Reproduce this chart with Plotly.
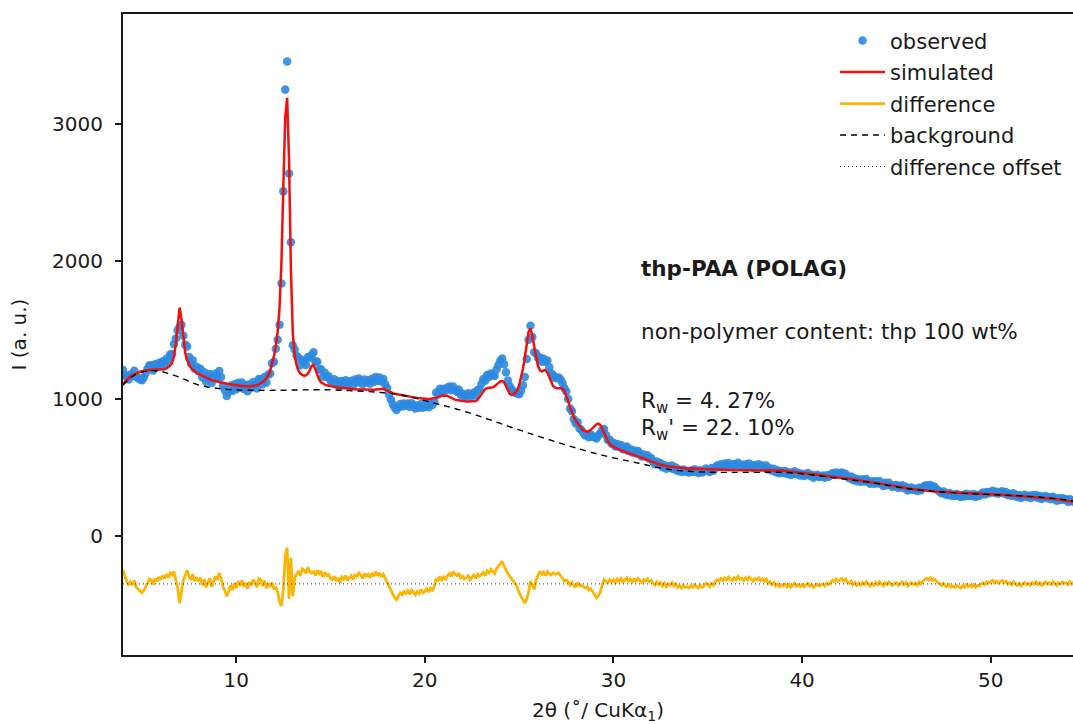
import numpy as np
import plotly.graph_objects as go

# Powder pattern of thp-PAA, scan 4.0-54.5 deg 2theta in 0.1 deg steps
SCAN_START = 4.0
SCAN_STEP = 0.1
DIFF_OFFSET = -345

observed = [
    1210, 1175, 1160, 1142, 1178, 1167, 1205, 1162, 1153, 1143,   # 4
    1137, 1155, 1188, 1220, 1246, 1242, 1207, 1252, 1232, 1262,   # 5
    1242, 1274, 1257, 1292, 1275, 1323, 1327, 1400, 1440, 1500,   # 6
    1525, 1540, 1460, 1395, 1382, 1305, 1258, 1282, 1220, 1235,   # 7
    1202, 1220, 1158, 1195, 1128, 1157, 1182, 1117, 1158, 1184,   # 8
    1156, 1203, 1160, 1097, 1064, 1021, 1053, 1096, 1059, 1107,   # 9
    1070, 1118, 1081, 1119, 1073, 1102, 1056, 1106, 1082, 1124,   # 10
    1107, 1076, 1146, 1143, 1107, 1159, 1120, 1177, 1185, 1260,   # 11
    1270, 1365, 1430, 1540, 1840, 2510, 3250, 3455, 2640, 2140,   # 12
    1390, 1360, 1315, 1300, 1245, 1285, 1270, 1247, 1305, 1300,   # 13
    1320, 1340, 1275, 1270, 1215, 1217, 1162, 1190, 1160, 1166,   # 14
    1133, 1120, 1143, 1106, 1129, 1092, 1130, 1113, 1136, 1100,   # 15
    1119, 1133, 1102, 1141, 1120, 1149, 1133, 1107, 1141, 1121,   # 16
    1136, 1111, 1147, 1123, 1160, 1133, 1156, 1128, 1145, 1108,   # 17
    1080, 1032, 996, 962, 938, 920, 942, 964, 946, 968,           # 18
    950, 968, 941, 969, 952, 930, 953, 936, 964, 937,             # 19
    946, 965, 940, 971, 957, 984, 1048, 1033, 1074, 1054,         # 20
    1075, 1060, 1082, 1091, 1063, 1090, 1065, 1052, 1069, 1031,   # 21
    1039, 1018, 1027, 1041, 1011, 1031, 1047, 1025, 1065, 1070,   # 22
    1110, 1145, 1133, 1174, 1160, 1186, 1175, 1168, 1215, 1248,   # 23
    1278, 1295, 1252, 1195, 1135, 1093, 1070, 1053, 1045, 1040,   # 24
    1035, 1060, 1100, 1160, 1290, 1430, 1532, 1450, 1340, 1330,   # 25
    1300, 1302, 1270, 1293, 1270, 1280, 1230, 1185, 1175, 1152,   # 26
    1153, 1157, 1139, 1115, 1078, 1055, 1000, 930, 910, 853,      # 27
    822, 830, 785, 775, 755, 735, 743, 722, 741, 728,             # 28
    722, 713, 735, 752, 775, 781, 738, 702, 703, 675,             # 29
    682, 655, 673, 651, 665, 634, 644, 654, 624, 635,             # 30
    610, 625, 606, 621, 601, 582, 597, 582, 591, 565,             # 31
    570, 545, 525, 545, 521, 532, 503, 520, 492, 510,             # 32
    498, 516, 489, 502, 476, 485, 469, 488, 472, 476,             # 33
    466, 480, 469, 489, 473, 462, 481, 466, 475, 495,             # 34
    484, 469, 498, 478, 502, 516, 506, 526, 510, 530,             # 35
    514, 534, 518, 508, 528, 512, 537, 517, 521, 506,             # 36
    526, 511, 530, 515, 500, 520, 510, 525, 506, 516,             # 37
    501, 517, 487, 497, 478, 493, 467, 481, 460, 474,             # 38
    463, 476, 455, 468, 447, 460, 474, 452, 461, 444,             # 39
    457, 440, 449, 462, 441, 449, 427, 441, 449, 433,             # 40
    436, 444, 427, 446, 434, 447, 460, 448, 466, 450,             # 41
    458, 466, 444, 457, 436, 424, 437, 410, 423, 402,             # 42
    415, 398, 416, 400, 418, 401, 384, 402, 384, 402,             # 43
    385, 403, 385, 368, 390, 373, 390, 373, 360, 373,             # 44
    375, 352, 365, 372, 350, 362, 335, 348, 356, 339,             # 45
    347, 330, 354, 337, 356, 369, 373, 362, 375, 354,             # 46
    363, 347, 336, 325, 314, 328, 307, 302, 316, 296,             # 47
    305, 294, 309, 298, 288, 302, 291, 311, 295, 305,             # 48
    294, 308, 288, 302, 297, 311, 320, 305, 324, 314,             # 49
    323, 332, 317, 326, 311, 320, 329, 313, 323, 302,             # 50
    311, 295, 314, 298, 287, 301, 280, 294, 303, 287,             # 51
    296, 280, 299, 288, 301, 280, 294, 273, 286, 295,             # 52
    278, 287, 270, 289, 277, 260, 278, 266, 279, 267,             # 53
    270, 253, 271, 254, 262, 245,                                 # 54
]

simulated = [
    1110, 1125, 1140, 1152, 1163, 1172, 1180, 1187, 1193, 1198,   # 4
    1202, 1205, 1208, 1210, 1211, 1212, 1212, 1212, 1212, 1212,   # 5
    1212, 1214, 1217, 1222, 1230, 1243, 1262, 1310, 1400, 1530,   # 6
    1665, 1580, 1430, 1335, 1282, 1250, 1228, 1212, 1200, 1190,   # 7
    1182, 1175, 1168, 1160, 1153, 1147, 1142, 1137, 1133, 1129,   # 8
    1126, 1123, 1120, 1117, 1114, 1111, 1108, 1106, 1104, 1102,   # 9
    1100, 1098, 1096, 1094, 1093, 1092, 1091, 1091, 1092, 1094,   # 10
    1097, 1101, 1106, 1113, 1122, 1134, 1150, 1172, 1205, 1250,   # 11
    1310, 1385, 1490, 1670, 2000, 2550, 3050, 3190, 2750, 1950,   # 12
    1480, 1320, 1245, 1205, 1185, 1175, 1170, 1172, 1185, 1210,   # 13
    1240, 1250, 1215, 1170, 1140, 1122, 1112, 1105, 1100, 1096,   # 14
    1093, 1090, 1088, 1086, 1084, 1082, 1080, 1078, 1076, 1075,   # 15
    1074, 1073, 1072, 1071, 1070, 1069, 1068, 1067, 1066, 1066,   # 16
    1066, 1066, 1067, 1068, 1070, 1073, 1076, 1078, 1075, 1068,   # 17
    1060, 1052, 1046, 1042, 1038, 1035, 1032, 1029, 1026, 1023,   # 18
    1020, 1018, 1016, 1014, 1012, 1010, 1008, 1006, 1004, 1002,   # 19
    1001, 1000, 1000, 1001, 1002, 1004, 1008, 1013, 1019, 1024,   # 20
    1025, 1025, 1022, 1016, 1008, 1000, 995, 992, 989, 986,       # 21
    984, 983, 982, 981, 981, 981, 982, 985, 995, 1015,            # 22
    1040, 1060, 1073, 1079, 1080, 1081, 1085, 1093, 1105, 1118,   # 23
    1128, 1130, 1122, 1095, 1060, 1038, 1030, 1033, 1045, 1065,   # 24
    1100, 1150, 1220, 1300, 1400, 1490, 1512, 1460, 1380, 1300,   # 25
    1240, 1210, 1200, 1208, 1210, 1190, 1155, 1120, 1095, 1082,   # 26
    1078, 1077, 1079, 1075, 1058, 1025, 985, 940, 900, 868,       # 27
    842, 820, 800, 785, 772, 765, 763, 767, 776, 788,             # 28
    802, 815, 820, 812, 785, 750, 718, 692, 672, 660,             # 29
    652, 645, 638, 631, 625, 619, 614, 609, 604, 600,             # 30
    595, 590, 586, 581, 576, 572, 567, 562, 556, 550,             # 31
    545, 540, 535, 530, 526, 522, 518, 515, 512, 510,             # 32
    508, 506, 504, 502, 501, 500, 499, 498, 497, 496,             # 33
    496, 495, 494, 494, 493, 492, 491, 491, 490, 490,             # 34
    489, 489, 488, 488, 487, 486, 486, 486, 485, 485,             # 35
    484, 484, 483, 483, 483, 482, 482, 482, 481, 481,             # 36
    481, 481, 480, 480, 480, 480, 480, 480, 481, 481,             # 37
    481, 482, 482, 482, 483, 483, 482, 481, 480, 479,             # 38
    478, 476, 475, 473, 472, 470, 469, 467, 466, 464,             # 39
    462, 460, 459, 457, 456, 454, 452, 451, 449, 448,             # 40
    446, 444, 442, 441, 439, 437, 435, 433, 431, 430,             # 41
    428, 426, 424, 422, 421, 419, 417, 415, 413, 412,             # 42
    410, 408, 406, 405, 403, 401, 399, 397, 394, 392,             # 43
    390, 388, 385, 383, 380, 378, 375, 373, 370, 368,             # 44
    365, 362, 360, 357, 355, 352, 350, 348, 346, 344,             # 45
    342, 340, 339, 337, 336, 334, 333, 332, 330, 329,             # 46
    328, 327, 326, 325, 324, 323, 322, 322, 321, 321,             # 47
    320, 319, 319, 318, 318, 317, 316, 316, 315, 315,             # 48
    314, 313, 313, 312, 312, 311, 310, 310, 309, 309,             # 49
    308, 307, 307, 306, 306, 305, 304, 303, 303, 302,             # 50
    301, 300, 299, 298, 297, 296, 295, 294, 293, 292,             # 51
    291, 290, 289, 288, 286, 285, 284, 283, 281, 280,             # 52
    278, 277, 275, 274, 272, 270, 268, 266, 264, 262,             # 53
    260, 258, 256, 254, 252, 250,                                 # 54
]

# Refined background, sampled every 0.5 deg
BG_STEP = 0.5
background = [
    1100, 1165, 1195, 1206, 1200, 1182, 1158, 1128, 1102, 1087,   # 4.0 - 8.5
    1077, 1070, 1066, 1064, 1063, 1063, 1063, 1064, 1065, 1066,   # 9.0 - 13.5
    1067, 1067, 1066, 1064, 1061, 1058, 1054, 1049, 1043, 1035,   # 14.0 - 18.5
    1022, 1006, 988, 970, 952, 934, 914, 893, 870, 846,           # 19.0 - 23.5
    822, 798, 775, 752, 730, 708, 686, 665, 644, 624,             # 24.0 - 28.5
    605, 588, 572, 557, 543, 528, 512, 498, 487, 479,             # 29.0 - 33.5
    474, 470, 468, 467, 466, 466, 466, 466, 467, 467,             # 34.0 - 38.5
    466, 462, 456, 448, 440, 431, 422, 413, 404, 395,             # 39.0 - 43.5
    385, 373, 361, 350, 341, 334, 328, 323, 319, 315,             # 44.0 - 48.5
    311, 308, 305, 302, 299, 296, 292, 287, 281, 274,             # 49.0 - 53.5
    265, 255,                                                     # 54.0 - 54.5
]

x_ticks = [10, 20, 30, 40, 50]
y_ticks = [0, 1000, 2000, 3000]

obs = np.array(observed, dtype=float)
calc = np.array(simulated, dtype=float)
two_theta = np.round(SCAN_START + SCAN_STEP * np.arange(obs.size), 2)
bg_theta = np.round(SCAN_START + BG_STEP * np.arange(len(background)), 2)
difference = obs - calc + DIFF_OFFSET

FONT = "DejaVu Sans"
INK = "#1a1a1a"

fig = go.Figure()
fig.add_trace(go.Scatter(
    x=two_theta, y=obs, mode="markers", name="observed",
    marker=dict(size=8.5, color="#2e8ae0", opacity=0.9, line=dict(width=0)),
    legendgroup="a",
))
fig.add_trace(go.Scatter(
    x=two_theta, y=calc, mode="lines", name="simulated",
    line=dict(color="#f01010", width=2.5), legendgroup="b",
))
fig.add_trace(go.Scatter(
    x=two_theta, y=difference, mode="lines", name="difference",
    line=dict(color="#fbb505", width=2.8), legendgroup="c",
))
fig.add_trace(go.Scatter(
    x=bg_theta, y=background, mode="lines", name="background",
    line=dict(color="black", width=1.4, dash="6px,5px", shape="spline"),
    legendgroup="d",
))
fig.add_trace(go.Scatter(
    x=[SCAN_START, two_theta[-1]], y=[DIFF_OFFSET, DIFF_OFFSET], mode="lines",
    name="difference offset",
    line=dict(color="#333333", width=1, dash="1px,3px"), legendgroup="e",
))

fig.update_layout(
    width=1073, height=724,
    margin=dict(l=123, r=0, t=14, b=69),
    paper_bgcolor="white", plot_bgcolor="white",
    font=dict(family=FONT, size=21, color=INK),
    legend=dict(
        x=0.7495, y=0.99, xanchor="left", yanchor="top",
        bgcolor="rgba(0,0,0,0)", font=dict(size=21, family=FONT, color=INK),
        tracegroupgap=1.2, itemwidth=45,
    ),
    xaxis=dict(
        range=[4.0, 54.36], tickvals=x_ticks, showgrid=False, zeroline=False,
        showline=True, linecolor=INK, linewidth=2, mirror=True,
        ticks="outside", ticklen=6, tickwidth=1.5, tickcolor=INK,
        tickfont=dict(size=20, family=FONT, color=INK),
        title=dict(text="2θ (˚/ CuKα<sub>1</sub>)", font=dict(size=20, family=FONT, color=INK), standoff=13),
        automargin=False,
    ),
    yaxis=dict(
        range=[-862, 3800], tickvals=y_ticks, showgrid=False, zeroline=False,
        showline=True, linecolor=INK, linewidth=2, mirror=False,
        ticks="outside", ticklen=6, tickwidth=1.5, tickcolor=INK,
        tickfont=dict(size=20, family=FONT, color=INK), ticklabelstandoff=8,
        title=dict(text="I (a. u.)", font=dict(size=20, family=FONT, color=INK), standoff=20),
        automargin=False,
    ),
)

notes = [
    ("<b>thp-PAA (POLAG)</b>", 0.6024),
    ("non-polymer content: thp 100 wt%", 0.5041),
    ("R<sub>w</sub> = 4. 27%", 0.3934),
    ("R<sub>w</sub>' = 22. 10%", 0.3513),
]
for text, yp in notes:
    fig.add_annotation(
        text=text, xref="paper", yref="paper", x=0.5435, y=yp,
        xanchor="left", yanchor="middle", showarrow=False,
        font=dict(size=21.5, family=FONT, color=INK),
    )

fig.write_html("out.html")
